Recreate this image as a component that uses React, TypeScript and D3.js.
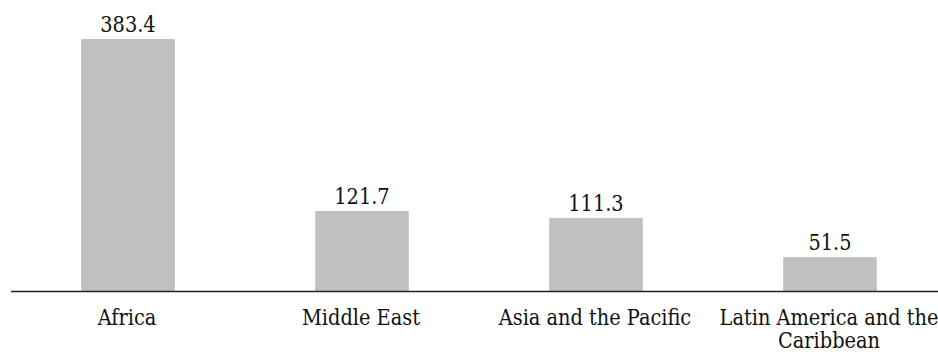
import React from "react";
import * as d3 from "d3";

const categories: string[][] = [
  ["Africa"],
  ["Middle East"],
  ["Asia and the Pacific"],
  ["Latin America and the", "Caribbean"],
];
const values: number[] = [383.4, 121.7, 111.3, 51.5];

const WIDTH = 938;
const HEIGHT = 352;
const FONT = "'DejaVu Serif Condensed', 'DejaVu Serif'";

export default function App() {
  const keys = categories.map((c) => c.join(" "));
  const x = d3
    .scaleBand<string>()
    .domain(keys)
    .range([11, 947])
    .paddingInner(0.6)
    .paddingOuter(0.3);
  const y = d3.scaleLinear().domain([0, 383.4]).range([291, 39]);
  const baseline = y(0);

  return (
    <svg
      width={WIDTH}
      height={HEIGHT}
      style={{ position: "absolute", left: 0, top: 0, display: "block", fontStretch: "condensed" }}
      fontFamily={FONT}
      fontSize={21.5}
    >
      <rect width={WIDTH} height={HEIGHT} fill="#ffffff" />
      {values.map((v, i) => {
        const key = keys[i];
        const x0 = x(key) as number;
        const cx = x0 + x.bandwidth() / 2;
        return (
          <g key={key}>
            <rect
              x={x0}
              y={y(v)}
              width={x.bandwidth()}
              height={baseline - y(v)}
              fill="#c0c0c0"
            />
            <text x={cx} y={y(v) - 7} textAnchor="middle" fill="#111">
              {d3.format(".1f")(v)}
            </text>
            {categories[i].map((line, j) => (
              <text
                key={j}
                x={cx - 1}
                y={325 + j * 23}
                textAnchor="middle"
                fill="#111"
              >
                {line}
              </text>
            ))}
          </g>
        );
      })}
      <line
        x1={11}
        x2={WIDTH}
        y1={baseline + 0.5}
        y2={baseline + 0.5}
        stroke="#222"
        strokeWidth={1.3}
      />
    </svg>
  );
}
